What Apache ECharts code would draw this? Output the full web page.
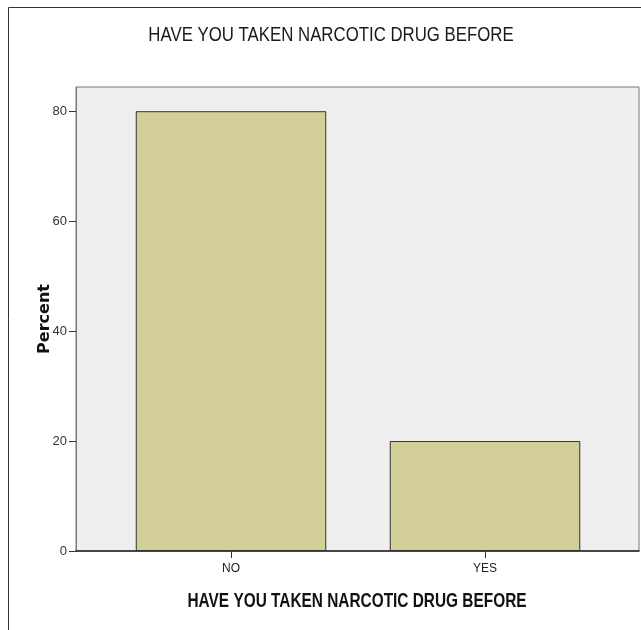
<!DOCTYPE html>
<html>
<head>
<meta charset="utf-8">
<script src="https://cdn.jsdelivr.net/npm/echarts@6/dist/echarts.min.js"></script>
<style>
  html, body { margin: 0; padding: 0; background: #fff; }
  #chart { width: 641px; height: 630px; }
</style>
</head>
<body>
<div id="chart"></div>
<script>
// data
const categories = ['NO', 'YES'];
const percents = [80, 20];
const yTicks = [0, 20, 40, 60, 80];
const titleText = 'HAVE YOU TAKEN NARCOTIC DRUG BEFORE';
const xName = 'HAVE YOU TAKEN NARCOTIC DRUG BEFORE';
const yName = 'Percent';

const yMax = 84.4;
const sans = '"Liberation Sans", Arial, sans-serif';

const chart = echarts.init(document.getElementById('chart'));

let option = {
    animation: false,
    backgroundColor: '#fff',
    // no narrow font here, so the SPSS style condensed titles are squeezed with scaleX
    graphic: [
        {
            type: 'rect',
            shape: { x: 8.5, y: 7.5, width: 800, height: 800 },
            style: { fill: 'none', stroke: '#333', lineWidth: 1 },
            silent: true
        },
        {
            type: 'text',
            x: 331,
            y: 35,
            scaleX: 0.84,
            style: {
                text: titleText,
                font: 'normal 20px ' + sans,
                fill: '#1a1a1a',
                textAlign: 'center',
                textVerticalAlign: 'middle'
            }
        },
        {
            type: 'text',
            x: 357,
            y: 601,
            scaleX: 0.77,
            style: {
                text: xName,
                font: 'bold 20px ' + sans,
                fill: '#111',
                textAlign: 'center',
                textVerticalAlign: 'middle'
            }
        }
    ],
    grid: [
        // frame / background of the plot area
        {
            left: 76, right: 2, top: 87, bottom: 79,
            show: true,
            backgroundColor: '#efefef',
            borderColor: '#777',
            borderWidth: 1
        },
        // bars sit in a narrower band, like SPSS does
        {
            left: 104, right: 29, top: 87, bottom: 79
        }
    ],
    xAxis: [
        {
            gridIndex: 0,
            type: 'category',
            data: categories,
            axisLine: { lineStyle: { color: '#222', width: 1.5 } },
            axisTick: { show: false },
            axisLabel: { show: false }
        },
        {
            gridIndex: 1,
            type: 'category',
            data: categories,
            axisLine: { show: false },
            axisTick: { show: true, alignWithLabel: true, length: 7, lineStyle: { color: '#333' } },
            axisLabel: {
                margin: 12,
                fontFamily: sans,
                fontSize: 12,
                color: '#222'
            }
        }
    ],
    yAxis: [
        {
            gridIndex: 0,
            type: 'value',
            min: 0,
            max: yMax,
            splitLine: { show: false },
            axisLine: { show: true, lineStyle: { color: '#777' } },
            axisTick: {
                show: true,
                length: 7,
                customValues: yTicks,
                lineStyle: { color: '#333' }
            },
            axisLabel: {
                customValues: yTicks,
                margin: 9,
                fontFamily: sans,
                fontSize: 13,
                color: '#333'
            },
            name: yName,
            nameLocation: 'middle',
            nameGap: 23,
            nameMoveOverlap: false,
            nameTextStyle: {
                fontFamily: '"DejaVu Sans", sans-serif',
                fontSize: 16,
                fontWeight: 'bold',
                color: '#111'
            }
        },
        {
            gridIndex: 1,
            type: 'value',
            min: 0,
            max: yMax,
            show: false,
            splitLine: { show: false }
        }
    ],
    series: [
        {
            type: 'bar',
            xAxisIndex: 1,
            yAxisIndex: 1,
            data: percents,
            barWidth: '75%',
            itemStyle: {
                color: '#d3cf98',
                borderColor: '#333',
                borderWidth: 1
            }
        }
    ]
};
chart.setOption(option);
</script>
</body>
</html>
